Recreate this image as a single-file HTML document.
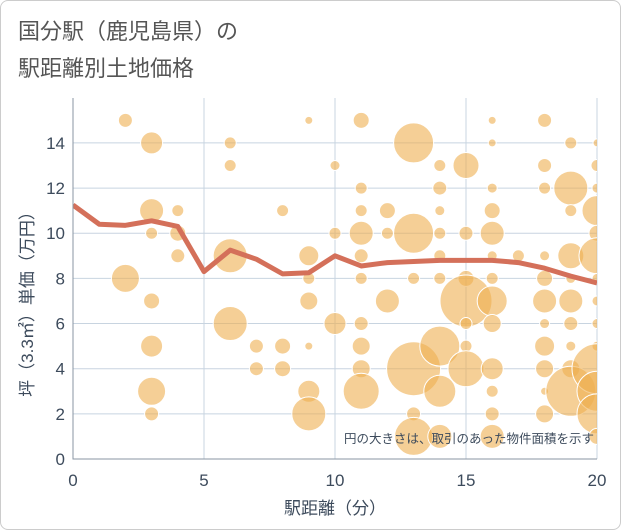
<!DOCTYPE html>
<html><head><meta charset="utf-8"><style>
body{margin:0;background:#fff;font-family:"Liberation Sans","Noto Sans CJK JP",sans-serif;}
.card{position:absolute;left:0;top:0;width:619px;height:528px;border:1px solid #ccc;border-radius:8px;background:#fff;}
.title{position:absolute;left:18px;top:13px;font-size:22px;line-height:37px;color:#555;}
</style></head><body>
<div class="card"></div>
<div class="title">国分駅（鹿児島県）の<br>駅距離別土地価格</div>
<svg id="c" width="621" height="530" style="position:absolute;left:0;top:0"></svg>
<script>
const xTicks=[0,5,10,15,20];
const yTicks=[0,2,4,6,8,10,12,14];
const lineX=[0,1,2,3,4,5,6,7,8,9,10,11,12,13,14,15,16,17,18,19,20];
const lineY=[11.25,10.4,10.35,10.55,10.3,8.3,9.25,8.85,8.2,8.25,9.0,8.55,8.7,8.75,8.8,8.8,8.8,8.7,8.45,8.1,7.8];
const bubX=[2,2,3,3,3,3,3,3,3,4,4,4,6,6,6,6,7,7,8,8,8,9,9,9,9,9,9,9,10,10,10,11,11,11,11,11,11,11,11,11,11,12,12,12,13,13,13,13,13,13,14,14,14,14,14,14,14,14,14,15,15,15,15,15,15,15,16,16,16,16,16,16,16,16,16,16,16,16,16,17,18,18,18,18,18,18,18,18,18,18,18,19,19,19,19,19,19,19,19,19,19,20,20,20,20,20,20,20,20,20,20,20,20,20,20];
const bubY=[15,8,14,10,11,7,5,3,2,11,10,9,14,13,9,6,5,4,11,5,4,15,9,8,7,5,3,2,13,10,6,15,12,11,10,9,8,6,5,4,3,11,10,7,14,10,8,4,2,1,13,12,11,10,9,8,5,3,1,13,10,8,7,6,5,4,15,14,12,11,10,9,8,7,6,4,3,2,1,9,15,13,12,9,8,7,6,5,4,3,2,14,12,11,9,8,7,6,5,4,3,14,13,12,11,10,9,8,7,6,5,4,3,2,1];
const bubR=[7,14,11,6,12,8,11,14,7,6,8,7,6,6,17,17,7,7,6,8,8,4,10,6,9,4,11,17,5,6,11,8,6,6,12,7,6,7,9,9,18,8,6,12,20,20,6,27,7,19,6,7,5,6,6,6,20,16,12,13,7,8,26,6,6,18,4,4,5,8,12,5,6,15,9,11,6,7,12,6,7,7,6,5,8,12,5,10,9,4,9,6,17,6,13,5,12,7,5,9,25,4,6,5,15,8,18,5,5,5,5,25,20,20,8];
const L=73,R=597,T=98,B=459;
const sx=v=>L+(v-0)/20*(R-L);
const sy=v=>B-v/15.99*(B-T);
const svg=document.getElementById('c');const NS='http://www.w3.org/2000/svg';
function mk(t,a,p){const e=document.createElementNS(NS,t);for(const k in a)e.setAttribute(k,a[k]);(p||svg).appendChild(e);return e;}
const defs=mk('defs',{});const cp=mk('clipPath',{id:'pc'},defs);mk('rect',{x:L,y:T,width:R-L,height:B-T},cp);
const grid=mk('g',{});


xTicks.forEach(v=>{mk('line',{x1:sx(v),x2:sx(v),y1:T,y2:B,stroke:'#c8d4e0','stroke-width':1},grid);
const t=mk('text',{x:sx(v),y:B+27,'text-anchor':'middle','font-size':17,fill:'#3d4b5c'});t.textContent=v;

});
yTicks.forEach(v=>{mk('line',{x1:L,x2:R,y1:sy(v),y2:sy(v),stroke:'#c8d4e0','stroke-width':1},grid);
const t=mk('text',{x:L-8,y:sy(v)+6,'text-anchor':'end','font-size':17,fill:'#3d4b5c'});t.textContent=v;

});
const bg=mk('g',{'clip-path':'url(#pc)'});


bubX.forEach((x,i)=>{const c=mk('circle',{cx:sx(x),cy:sy(bubY[i]),r:bubR[i],fill:'rgba(238,175,80,0.6)',stroke:'#fff','stroke-width':1},bg);

});
const ln=mk('polyline',{points:lineX.map((x,i)=>sx(x)+','+sy(lineY[i])).join(' '),fill:'none',stroke:'#d4705a','stroke-width':5,'stroke-linejoin':'round','clip-path':'url(#pc)'});


const ax=mk('path',{d:`M${L},${T}V${B}H${R}`,fill:'none',stroke:'#8a96a3','stroke-width':1});


const note=mk('text',{x:594,y:443,'text-anchor':'end','font-size':12.5,fill:'#3d4b5c'});note.textContent='円の大きさは、取引のあった物件面積を示す';


const xt=mk('text',{x:335,y:514,'text-anchor':'middle','font-size':17,fill:'#3d4b5c'});xt.textContent='駅距離（分）';


const yt=mk('text',{x:0,y:0,'text-anchor':'middle','font-size':17,fill:'#3d4b5c',transform:'translate(33,300) rotate(-90)'});yt.textContent='坪（3.3㎡）単価（万円）';


</script>
</body></html>
